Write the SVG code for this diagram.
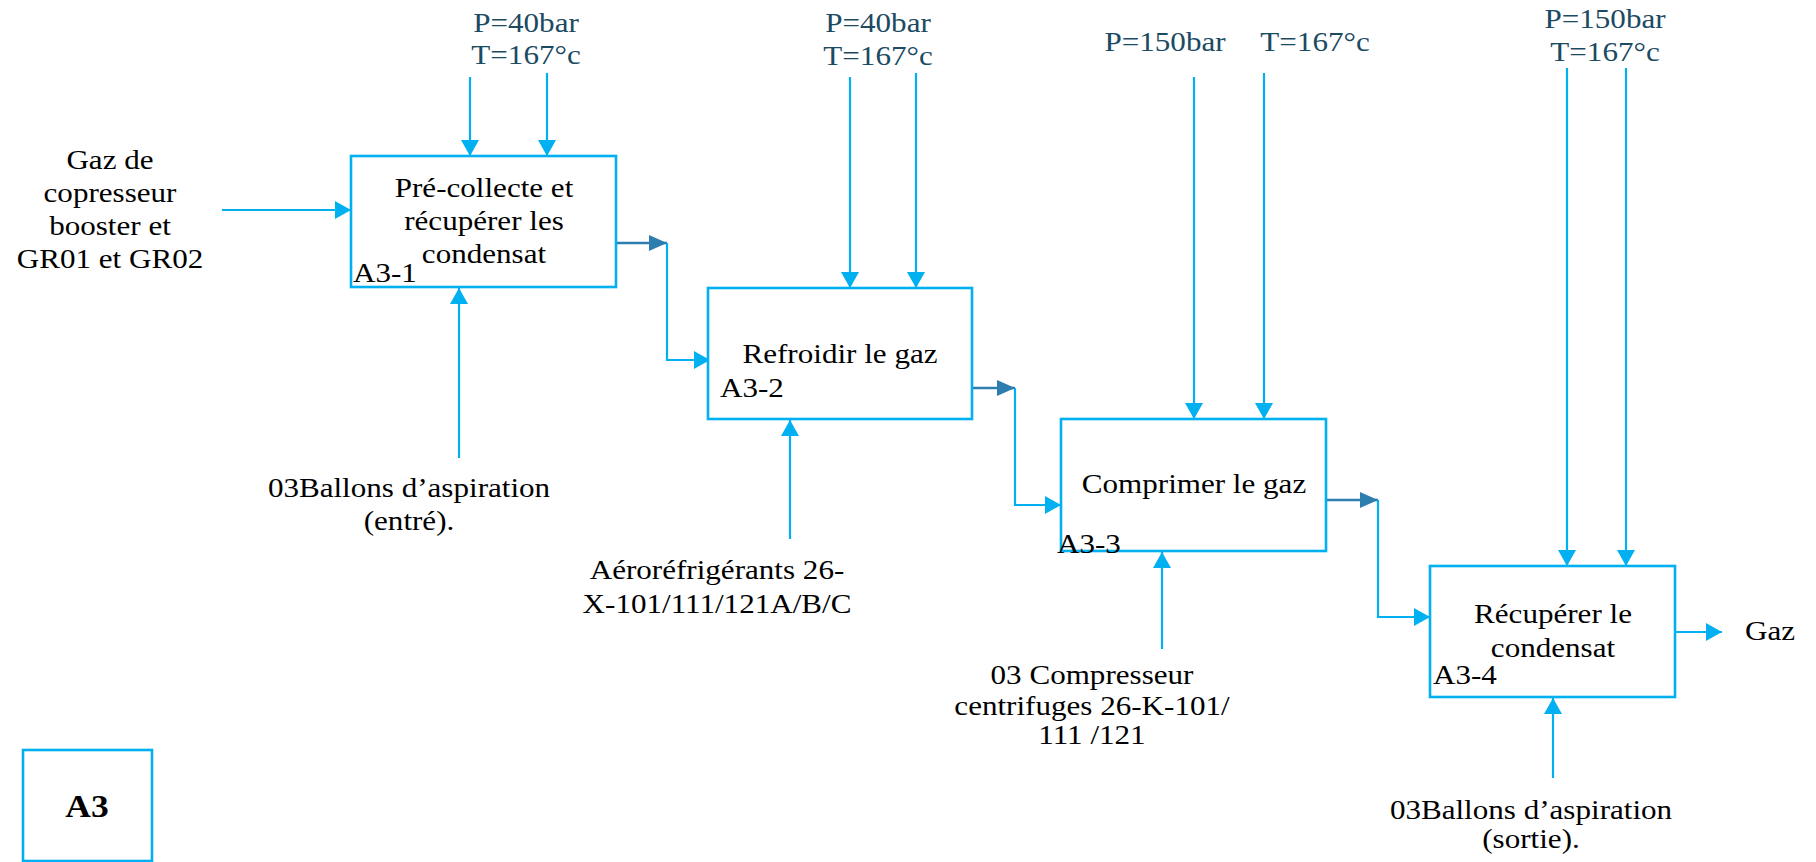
<svg xmlns="http://www.w3.org/2000/svg" width="1816" height="862" viewBox="0 0 1816 862">
<style>
.b{fill:#fff;stroke:#00B0F0;stroke-width:2.6}
.l{fill:none;stroke:#00B0F0;stroke-width:2.2}
.dk{fill:none;stroke:#2E7DAF;stroke-width:2.6}
.t{font-family:"Liberation Serif","Times New Roman",serif;font-size:28px;fill:#000}
.m{text-anchor:middle}
.p{fill:#1B4A63}
</style>
<defs>
<marker id="a" viewBox="0 0 16 18" refX="16" refY="9" markerWidth="16" markerHeight="18" markerUnits="userSpaceOnUse" orient="auto"><path d="M0,0L16,9L0,18z" fill="#00B0F0"/></marker>
<marker id="d" viewBox="0 0 18 16" refX="18" refY="8" markerWidth="18" markerHeight="16" markerUnits="userSpaceOnUse" orient="auto"><path d="M0,0L18,8L0,16z" fill="#2E7DAF"/></marker>
</defs>
<rect width="1816" height="862" fill="#fff"/>

<g id="connectors">
<line class="l" x1="222" y1="210" x2="351" y2="210" marker-end="url(#a)"/>
<line class="l" x1="470" y1="77" x2="470" y2="156" marker-end="url(#a)"/>
<line class="l" x1="547" y1="73" x2="547" y2="156" marker-end="url(#a)"/>
<line class="l" x1="459" y1="458" x2="459" y2="288" marker-end="url(#a)"/>
<line class="dk" x1="616" y1="243" x2="667" y2="243" marker-end="url(#d)"/>
<polyline class="l" points="667,243 667,360 710,360" marker-end="url(#a)"/>

<line class="l" x1="850" y1="77" x2="850" y2="288" marker-end="url(#a)"/>
<line class="l" x1="916" y1="73" x2="916" y2="288" marker-end="url(#a)"/>
<line class="l" x1="790" y1="539" x2="790" y2="420" marker-end="url(#a)"/>
<line class="dk" x1="972" y1="388" x2="1015" y2="388" marker-end="url(#d)"/>
<polyline class="l" points="1015,388 1015,505 1061,505" marker-end="url(#a)"/>

<line class="l" x1="1194" y1="77" x2="1194" y2="419" marker-end="url(#a)"/>
<line class="l" x1="1264" y1="73" x2="1264" y2="419" marker-end="url(#a)"/>
<line class="l" x1="1162" y1="649" x2="1162" y2="552" marker-end="url(#a)"/>
<line class="dk" x1="1326" y1="500" x2="1378" y2="500" marker-end="url(#d)"/>
<polyline class="l" points="1378,500 1378,617 1430,617" marker-end="url(#a)"/>

<line class="l" x1="1567" y1="68" x2="1567" y2="566" marker-end="url(#a)"/>
<line class="l" x1="1626" y1="68" x2="1626" y2="566" marker-end="url(#a)"/>
<line class="l" x1="1553" y1="778" x2="1553" y2="698" marker-end="url(#a)"/>
<line class="l" x1="1675" y1="632" x2="1722" y2="632" marker-end="url(#a)"/>
</g>

<g id="input-gaz">
<text class="t m" transform="translate(110,0) scale(1.11,1)"><tspan x="0" y="169">Gaz de</tspan><tspan x="0" y="202">copresseur</tspan><tspan x="0" y="235">booster et</tspan><tspan x="0" y="268">GR01 et GR02</tspan></text>
</g>

<g id="A3-1">
<rect class="b" x="351" y="156" width="265" height="131"/>
<text class="t m" transform="translate(484,0) scale(1.11,1)"><tspan x="0" y="197">Pré-collecte et</tspan><tspan x="0" y="230">récupérer les</tspan><tspan x="0" y="263">condensat</tspan></text>
<text class="t" transform="translate(353,0) scale(1.11,1)" x="0" y="282">A3-1</text>
</g>
<g id="ctrl-1">
<text class="t m p" transform="translate(526,0) scale(1.11,1)"><tspan x="0" y="32">P=40bar</tspan><tspan x="0" y="64">T=167°c</tspan></text>
</g>
<g id="mech-1">
<text class="t m" transform="translate(409,0) scale(1.11,1)"><tspan x="0" y="497">03Ballons d’aspiration</tspan><tspan x="0" y="530">(entré).</tspan></text>
</g>

<g id="A3-2">
<rect class="b" x="708" y="288" width="264" height="131"/>
<text class="t m" transform="translate(840,0) scale(1.11,1)" x="0" y="363">Refroidir le gaz</text>
<text class="t" transform="translate(720,0) scale(1.11,1)" x="0" y="397">A3-2</text>
</g>
<g id="ctrl-2">
<text class="t m p" transform="translate(878,0) scale(1.11,1)"><tspan x="0" y="32">P=40bar</tspan><tspan x="0" y="65">T=167°c</tspan></text>
</g>
<g id="mech-2">
<text class="t m" transform="translate(717,0) scale(1.11,1)"><tspan x="0" y="579">Aéroréfrigérants 26-</tspan><tspan x="0" y="613">X-101/111/121A/B/C</tspan></text>
</g>

<g id="A3-3">
<rect class="b" x="1061" y="419" width="265" height="132"/>
<text class="t m" transform="translate(1194,0) scale(1.11,1)" x="0" y="493">Comprimer le gaz</text>
<text class="t" transform="translate(1057,0) scale(1.11,1)" x="0" y="553">A3-3</text>
</g>
<g id="ctrl-3">
<text class="t m p" transform="translate(1165,0) scale(1.11,1)" x="0" y="51">P=150bar</text>
<text class="t m p" transform="translate(1315,0) scale(1.11,1)" x="0" y="51">T=167°c</text>
</g>
<g id="mech-3">
<text class="t m" transform="translate(1092,0) scale(1.11,1)"><tspan x="0" y="684">03 Compresseur</tspan><tspan x="0" y="715">centrifuges 26-K-101/</tspan><tspan x="0" y="744">111 /121</tspan></text>
</g>

<g id="A3-4">
<rect class="b" x="1430" y="566" width="245" height="131"/>
<text class="t m" transform="translate(1553,0) scale(1.11,1)"><tspan x="0" y="623">Récupérer le</tspan><tspan x="0" y="657">condensat</tspan></text>
<text class="t" transform="translate(1433,0) scale(1.11,1)" x="0" y="684">A3-4</text>
</g>
<g id="ctrl-4">
<text class="t m p" transform="translate(1605,0) scale(1.11,1)"><tspan x="0" y="28">P=150bar</tspan><tspan x="0" y="61">T=167°c</tspan></text>
</g>
<g id="mech-4">
<text class="t m" transform="translate(1531,0) scale(1.11,1)"><tspan x="0" y="819">03Ballons d’aspiration</tspan><tspan x="0" y="848">(sortie).</tspan></text>
</g>
<g id="output-gaz">
<text class="t" transform="translate(1745,0) scale(1.11,1)" x="0" y="640">Gaz</text>
</g>

<g id="A3">
<rect class="b" x="23" y="750" width="129" height="111"/>
<text class="t m" transform="translate(87,0) scale(1.11,1)" x="0" y="817" style="font-weight:bold;font-size:32px">A3</text>
</g>
</svg>
